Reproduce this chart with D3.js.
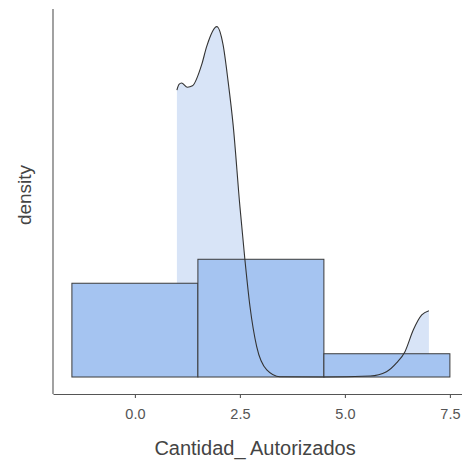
<!DOCTYPE html>
<html>
<head>
  <meta charset="utf-8">
  <script src="https://d3js.org/d3.v7.min.js"></script>
  <style>
    body { margin: 0; background: #fff; }
    text { font-family: "Liberation Sans", Arial, sans-serif; }
  </style>
</head>
<body>
<div id="chart"></div>
<script>
  // histogram bins (start, end) and their density heights
  const binStart = [-1.5, 1.5, 4.5];
  const binEnd = [1.5, 4.5, 7.5];
  const binDensity = [0.133, 0.167, 0.033];

  // density curve
  const densX = [1.0, 1.05, 1.11, 1.25, 1.37, 1.59, 1.71, 1.95, 2.10, 2.22, 2.34, 2.50, 2.62, 2.74, 2.90, 3.14, 3.45, 4.5, 5.6, 5.99, 6.23, 6.43, 6.63, 6.83, 7.0];
  const densY = [0.407, 0.415, 0.417, 0.411, 0.413, 0.443, 0.469, 0.497, 0.471, 0.419, 0.357, 0.242, 0.166, 0.100, 0.043, 0.010, 0.0004, 0.0, 0.0014, 0.0075, 0.020, 0.036, 0.067, 0.088, 0.094];

  const xTicks = [0, 2.5, 5, 7.5];

  const width = 462;
  const height = 460;

  const svg = d3.select("#chart").append("svg")
    .attr("width", width)
    .attr("height", height);

  const x = d3.scaleLinear().domain([-1.95, 7.95]).range([53, 468.8]);
  const y = d3.scaleLinear().domain([-0.0241, 0.522]).range([394, 9]);

  const dens = densX.map((d, i) => [d, densY[i]]);
  const bins = binStart.map((d, i) => ({ x0: d, x1: binEnd[i], v: binDensity[i] }));

  // density fill
  const area = d3.area()
    .x(d => x(d[0]))
    .y0(y(0))
    .y1(d => y(d[1]))
    .curve(d3.curveMonotoneX);

  svg.append("path")
    .datum(dens)
    .attr("d", area)
    .attr("fill", "#d8e4f7");

  // histogram
  svg.selectAll("rect.bar")
    .data(bins)
    .join("rect")
    .attr("class", "bar")
    .attr("x", d => x(d.x0))
    .attr("width", d => x(d.x1) - x(d.x0))
    .attr("y", d => y(d.v))
    .attr("height", d => y(0) - y(d.v))
    .attr("fill", "#a5c4f1")
    .attr("stroke", "#3a3a3a")
    .attr("stroke-width", 1);

  // density outline
  const line = d3.line()
    .x(d => x(d[0]))
    .y(d => y(d[1]))
    .curve(d3.curveMonotoneX);

  svg.append("path")
    .datum(dens)
    .attr("d", line)
    .attr("fill", "none")
    .attr("stroke", "#333")
    .attr("stroke-width", 1.1);

  // x axis
  const xAxis = svg.append("g")
    .attr("transform", `translate(0, ${y.range()[0]})`)
    .call(d3.axisBottom(x).tickValues(xTicks).tickFormat(d3.format(".1f")).tickSize(4).tickSizeOuter(0));
  xAxis.select(".domain").attr("stroke", "#555").attr("stroke-width", 1.1);
  xAxis.selectAll(".tick line").attr("stroke", "#555").attr("stroke-width", 1.1);
  xAxis.selectAll(".tick text")
    .attr("fill", "#555")
    .attr("font-size", 14.5)
    .attr("y", 15)
    .attr("dy", "0.71em");

  // y axis line only
  svg.append("line")
    .attr("x1", x.range()[0]).attr("x2", x.range()[0])
    .attr("y1", y.range()[1]).attr("y2", y.range()[0])
    .attr("stroke", "#555")
    .attr("stroke-width", 1.1);

  // axis titles
  svg.append("text")
    .attr("x", 255)
    .attr("y", 455)
    .attr("text-anchor", "middle")
    .attr("font-size", 20)
    .attr("fill", "#444")
    .text("Cantidad_ Autorizados");

  svg.append("text")
    .attr("transform", "translate(31, 195) rotate(-90)")
    .attr("text-anchor", "middle")
    .attr("font-size", 19)
    .attr("fill", "#444")
    .text("density");
</script>
</body>
</html>
